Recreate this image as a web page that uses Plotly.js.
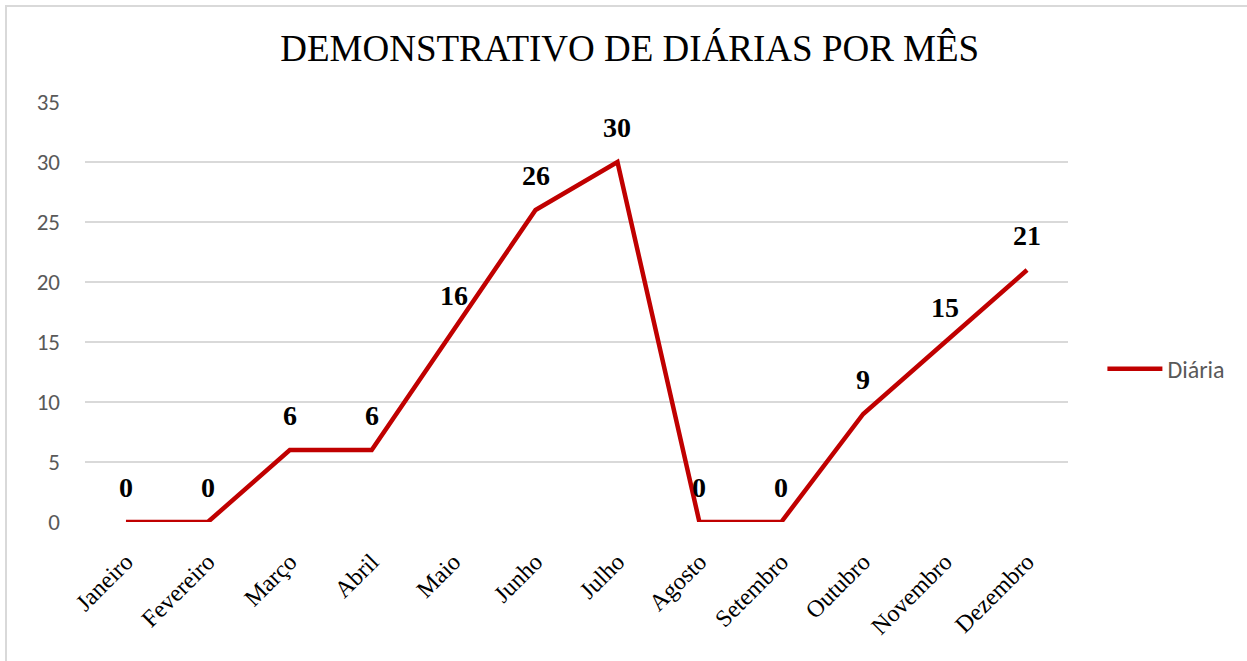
<!DOCTYPE html>
<html>
<head>
<meta charset="utf-8">
<script src="https://cdn.plot.ly/plotly-3.0.1.min.js"></script>
<style>html,body{margin:0;padding:0;background:#fff;}#chart{width:1247px;height:661px;}</style>
</head>
<body>
<div id="chart"></div>
<script>
const months = ["Janeiro","Fevereiro","Março","Abril","Maio","Junho","Julho","Agosto","Setembro","Outubro","Novembro","Dezembro"];
const diarias = [0,0,6,6,16,26,30,0,0,9,15,21];
const yTicks = [0,5,10,15,20,25,30,35];

const serif = 'Liberation Serif, Times New Roman, serif';
const sans = 'Carlito, Calibri, Open Sans, sans-serif';

const trace = {
  x: months, y: diarias, type: 'scatter', mode: 'lines', name: 'Diária',
  line: {color: '#C00000', width: 4.5},
  hoverinfo: 'x+y'
};

const annotations = months.map((m, i) => ({
  x: m, y: diarias[i], xref: 'x', yref: 'y', text: '<b>' + diarias[i] + '</b>',
  showarrow: false, yshift: 35,
  font: {family: serif, size: 28, color: '#000'}
}));

const layout = {
  width: 1247, height: 661,
  margin: {l: 85, r: 179, t: 102, b: 139},
  paper_bgcolor: '#fff', plot_bgcolor: '#fff',
  title: {text: 'DEMONSTRATIVO DE DIÁRIAS POR MÊS', font: {family: serif, size: 37, color: '#000'}, x: 0.505, xanchor: 'center', y: 0.928, yanchor: 'middle'},
  xaxis: {
    type: 'category', tickangle: -45, showgrid: false, zeroline: false, showline: false,
    ticks: '', ticklabelstandoff: 20,
    tickfont: {family: serif, size: 24, color: '#000'},
    range: [-0.5, 11.5]
  },
  yaxis: {
    range: [0, 35], tickvals: yTicks, showgrid: true, gridcolor: '#d9d9d9', gridwidth: 1.5,
    zeroline: false, showline: false, ticks: '', ticklabelstandoff: 24,
    tickfont: {family: sans, size: 23, color: '#595959'}
  },
  showlegend: true,
  legend: {x: 1.035, xanchor: 'left', y: 0.364, yanchor: 'middle', itemwidth: 55,
    font: {family: sans, size: 24, color: '#595959'},
    bgcolor: 'rgba(0,0,0,0)'},
  annotations: annotations,
  shapes: [{type: 'rect', xref: 'paper', yref: 'paper',
    x0: (6 - 85) / 983, x1: 1.3, y0: -0.5, y1: (522 - 6) / 420,
    line: {color: '#d9d9d9', width: 2}, fillcolor: 'rgba(0,0,0,0)', layer: 'below'}]
};

Plotly.newPlot('chart', [trace], layout, {displayModeBar: false, staticPlot: true});
</script>
</body>
</html>
